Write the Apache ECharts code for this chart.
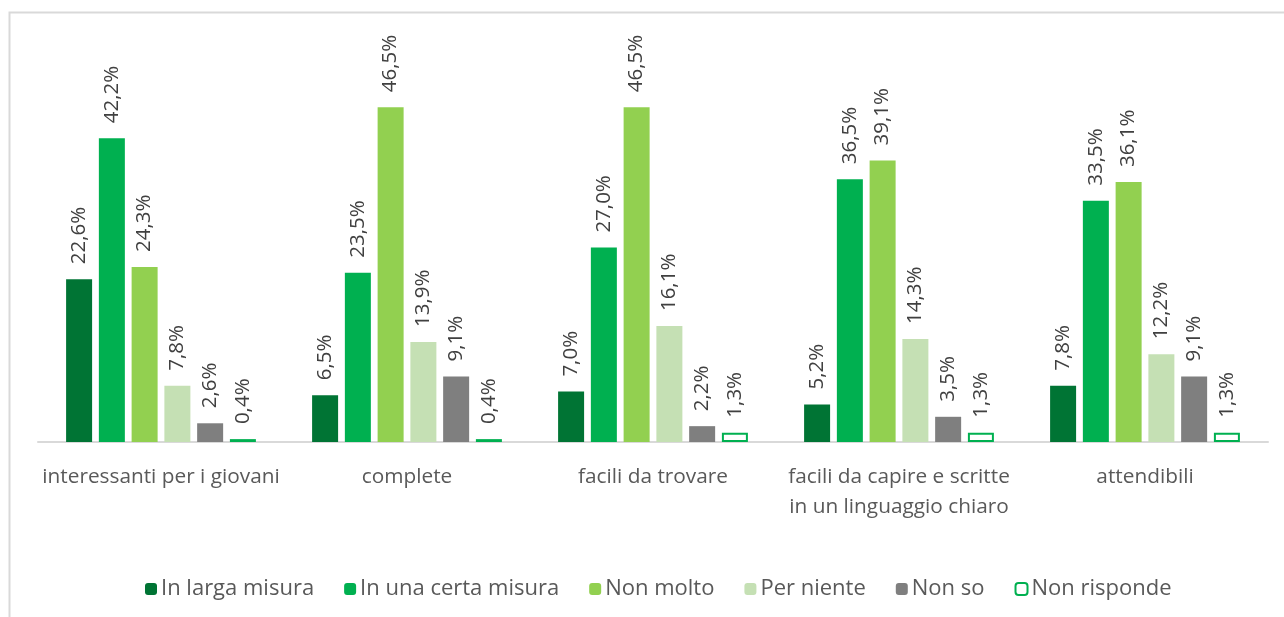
<!DOCTYPE html>
<html>
<head>
<meta charset="utf-8">
<script src="https://cdn.jsdelivr.net/npm/echarts@6/dist/echarts.min.js"></script>
<style>
  html, body { margin: 0; padding: 0; background: #fff; }
  #chart { width: 1284px; height: 617px; }
</style>
</head>
<body>
<div id="chart"></div>
<script>
// categorie (asse x)
const categories = [
  'interessanti per i giovani',
  'complete',
  'facili da trovare',
  'facili da capire e scritte\nin un linguaggio chiaro',
  'attendibili'
]
// valori per risposta (%)
const inLargaMisura = [22.6, 6.5, 7.0, 5.2, 7.8]
const inUnaCertaMisura = [42.2, 23.5, 27.0, 36.5, 33.5]
const nonMolto = [24.3, 46.5, 46.5, 39.1, 36.1]
const perNiente = [7.8, 13.9, 16.1, 14.3, 12.2]
const nonSo = [2.6, 9.1, 2.2, 3.5, 9.1]
const nonRisponde = [0.4, 0.4, 1.3, 1.3, 1.3]

const font = '"Open Sans", "Noto Sans", sans-serif'

// etichetta con virgola decimale
const labelFmt = (p) => p.value.toFixed(1).replace('.', ',') + '%'

function makeSeries(name, data, color, outline) {
  return {
    name: name,
    type: 'bar',
    data: data,
    barWidth: 26,
    barGap: '26%',
    itemStyle: outline
      ? { color: '#ffffff', borderColor: color, borderWidth: 2 }
      : { color: color },
    label: {
      show: true,
      position: 'top',
      rotate: 90,
      align: 'left',
      verticalAlign: 'middle',
      distance: 15,
      formatter: labelFmt,
      color: '#404040',
      fontSize: 20.5,
      fontFamily: font
    }
  }
}

const myChart = echarts.init(document.getElementById('chart'))
myChart.setOption({
  animation: false,
  backgroundColor: '#ffffff',
  graphic: [{
    type: 'rect',
    shape: { x: 9.5, y: 12.5, width: 1400, height: 800 },
    style: { fill: 'none', stroke: '#d9d9d9', lineWidth: 2 },
    silent: true
  }],
  grid: { left: 38, right: 16, top: 82, bottom: 175 },
  legend: {
    top: 573,
    left: 140,
    itemWidth: 12,
    itemHeight: 12,
    itemGap: 30,
    textStyle: { color: '#595959', fontSize: 22, fontFamily: font, padding: [0, 0, 0, -1] },
    data: ['In larga misura', 'In una certa misura', 'Non molto', 'Per niente', 'Non so', 'Non risponde']
  },
  xAxis: {
    type: 'category',
    data: categories,
    axisLine: { lineStyle: { color: '#d9d9d9', width: 2 } },
    axisTick: { show: false },
    axisLabel: {
      color: '#595959',
      fontSize: 20.8,
      fontFamily: font,
      margin: 20,
      lineHeight: 30,
      interval: 0
    }
  },
  yAxis: {
    type: 'value',
    min: 0,
    max: 50,
    show: false,
    splitLine: { show: false }
  },
  series: [
    makeSeries('In larga misura', inLargaMisura, '#007434'),
    makeSeries('In una certa misura', inUnaCertaMisura, '#00b050'),
    makeSeries('Non molto', nonMolto, '#92d050'),
    makeSeries('Per niente', perNiente, '#c5e0b4'),
    makeSeries('Non so', nonSo, '#7f7f7f'),
    makeSeries('Non risponde', nonRisponde, '#00b050', true)
  ]
})
</script>
</body>
</html>
